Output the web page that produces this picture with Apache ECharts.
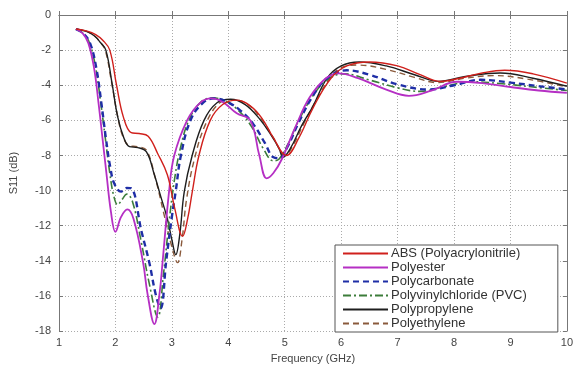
<!DOCTYPE html>
<html>
<head>
<meta charset="utf-8">
<script src="https://cdn.jsdelivr.net/npm/echarts@6/dist/echarts.min.js"></script>
<style>
html,body{margin:0;padding:0;background:#fff;}
#chart{width:576px;height:369px;}
</style>
</head>
<body>
<div id="chart"></div>
<script>
// ---- data (frequency in GHz, S11 in dB) ----
var absFreq = [1.3,1.5,1.65,1.78,1.9,2.02,2.14,2.28,2.42,2.58,2.75,2.92,3.05,3.19,3.28,3.36,3.48,3.68,3.9,4.15,4.4,4.6,4.8,5.03,5.25,5.5,5.82,6.1,6.5,7.0,7.4,7.75,8.1,8.5,8.9,9.4,10];
var absS11 = [-0.8,-0.92,-1.12,-1.45,-2.0,-4.0,-5.8,-6.7,-6.75,-6.9,-7.9,-9.1,-11.0,-12.6,-11.6,-10.1,-8.0,-6.0,-5.1,-4.85,-5.2,-5.9,-7.0,-8.0,-7.0,-5.3,-3.6,-2.9,-2.68,-2.9,-3.4,-3.78,-3.6,-3.3,-3.15,-3.35,-3.88];

var polyesterFreq = [1.3,1.42,1.52,1.62,1.7,1.77,1.84,1.92,2.0,2.1,2.21,2.32,2.49,2.57,2.69,2.78,2.84,2.95,3.04,3.27,3.5,3.7,3.9,4.15,4.39,4.55,4.68,4.8,4.95,5.2,5.44,5.73,5.96,6.3,6.8,7.2,7.6,8.05,8.5,9.0,9.5,10];
var polyesterS11 = [-0.8,-1.05,-1.6,-3.0,-5.0,-7.0,-9.0,-11.2,-12.35,-11.5,-11.07,-11.6,-14.1,-15.9,-17.6,-15.9,-13.9,-10.06,-8.03,-6.0,-5.0,-4.75,-4.95,-5.6,-6.0,-8.0,-9.3,-9.0,-8.2,-6.3,-4.7,-3.6,-3.32,-3.6,-4.25,-4.6,-4.3,-3.8,-3.88,-4.1,-4.3,-4.43];

var pcFreq = [1.3,1.43,1.55,1.66,1.75,1.83,1.91,1.98,2.1,2.2,2.28,2.46,2.6,2.72,2.8,2.9,3.0,3.07,3.16,3.33,3.55,3.75,3.95,4.2,4.44,4.65,4.8,4.91,5.05,5.25,5.5,5.75,6.1,6.5,7.0,7.54,8.0,8.47,9.0,9.5,10];
var pcS11 = [-0.8,-1.05,-1.6,-3.0,-5.0,-7.0,-8.7,-9.6,-10.06,-9.85,-9.87,-12.3,-14.1,-16.0,-16.7,-14.0,-11.5,-10.0,-8.0,-6.0,-5.0,-4.75,-4.9,-5.4,-6.2,-7.3,-8.1,-8.15,-7.5,-6.1,-4.6,-3.6,-3.15,-3.4,-3.95,-4.24,-4.0,-3.69,-3.85,-4.05,-4.24];

var pvcFreq = [1.3,1.43,1.54,1.65,1.74,1.82,1.9,1.97,2.04,2.12,2.2,2.3,2.45,2.6,2.75,2.85,2.95,3.05,3.15,3.3,3.5,3.72,3.95,4.2,4.42,4.62,4.8,4.9,5.05,5.25,5.5,5.75,6.05,6.5,7.0,7.4,7.8,8.3,8.8,9.4,10];
var pvcS11 = [-0.8,-1.05,-1.6,-3.0,-5.0,-7.0,-9.0,-10.3,-10.8,-10.5,-10.2,-10.6,-12.8,-15.3,-17.2,-14.8,-11.8,-9.3,-7.6,-6.0,-5.0,-4.72,-4.9,-5.5,-6.4,-7.6,-8.3,-8.2,-7.4,-6.0,-4.6,-3.7,-3.35,-3.7,-4.15,-4.35,-4.1,-3.8,-3.9,-4.1,-4.3];

var ppFreq = [1.3,1.5,1.63,1.73,1.83,1.94,2.04,2.15,2.25,2.4,2.55,2.69,2.8,2.92,3.0,3.07,3.14,3.22,3.36,3.57,3.8,4.04,4.3,4.55,4.75,4.9,4.97,5.1,5.3,5.5,5.75,6.0,6.32,6.8,7.3,7.72,8.2,8.82,9.4,10];
var ppS11 = [-0.8,-0.95,-1.2,-1.55,-2.0,-3.9,-5.8,-7.0,-7.5,-7.55,-7.8,-9.1,-10.3,-11.6,-12.8,-13.65,-12.5,-10.06,-8.0,-6.0,-5.0,-4.8,-5.1,-5.9,-6.8,-7.6,-8.1,-7.6,-6.3,-5.2,-3.6,-2.9,-2.68,-2.9,-3.4,-3.78,-3.5,-3.3,-3.6,-4.06];

var peFreq = [1.3,1.5,1.63,1.73,1.82,1.93,2.03,2.13,2.25,2.4,2.55,2.7,2.85,3.0,3.1,3.18,3.26,3.4,3.6,3.85,4.08,4.35,4.6,4.8,4.95,5.0,5.15,5.35,5.55,5.8,6.0,6.3,6.8,7.3,7.7,8.2,8.7,9.3,10];
var peS11 = [-0.8,-0.95,-1.2,-1.55,-2.0,-3.8,-5.6,-6.9,-7.45,-7.5,-7.7,-9.2,-11.2,-13.2,-14.1,-12.8,-10.5,-8.2,-6.2,-5.0,-4.82,-5.1,-6.0,-7.0,-7.9,-8.0,-7.4,-6.1,-4.9,-3.6,-3.0,-2.85,-3.1,-3.55,-3.85,-3.6,-3.45,-3.65,-4.1];

var seriesNames = ['ABS (Polyacrylonitrile)','Polyester','Polycarbonate','Polyvinylchloride (PVC)','Polypropylene','Polyethylene'];

function zip(f, v){ return f.map(function(x,i){ return [x, v[i]]; }); }

var styles = [
  {color:'#d0201c', width:1.4, type:'solid'},
  {color:'#b52fc4', width:1.8, type:'solid'},
  {color:'#1f2ea6', width:2.4, type:[6,4]},
  {color:'#3c7d3a', width:1.6, type:[8,3,2,3]},
  {color:'#1e1e1e', width:1.4, type:'solid'},
  {color:'#8a5a3c', width:1.4, type:[6,4]}
];
var datasets = [zip(absFreq,absS11), zip(polyesterFreq,polyesterS11), zip(pcFreq,pcS11), zip(pvcFreq,pvcS11), zip(ppFreq,ppS11), zip(peFreq,peS11)];

var series = datasets.map(function(d,i){
  return {
    name: seriesNames[i], type:'line', data:d, smooth:0.4, symbol:'none',
    xAxisIndex:0, yAxisIndex:0,
    lineStyle:{color:styles[i].color, width:styles[i].width, type:styles[i].type},
    itemStyle:{color:styles[i].color},
    z: 10 - i
  };
});

var txt = {color:'#444', fontFamily:'Liberation Sans, Arial, sans-serif', fontSize:11};
var gridLine = {show:true, lineStyle:{color:'#aaa', type:[1,2], width:1}};

var chart = echarts.init(document.getElementById('chart'), null, {renderer:'canvas'});
chart.setOption({
  backgroundColor:'#fff',
  animation:false,
  grid:{left:57, right:6, top:15, bottom:29, show:false},
  legend:{
    show:true,
    orient:'vertical', left:335, top:245,
    data: seriesNames,
    itemWidth:45, itemHeight:12, itemGap:1,
    padding:[2,31,2,7],
    backgroundColor:'#fff', borderColor:'#555', borderWidth:1,
    itemStyle:{opacity:0},
    textStyle:{color:'#333', fontFamily:'Liberation Sans, Arial, sans-serif', fontSize:13, lineHeight:12, padding:[0,0,0,-2]}
  },
  xAxis:[{
    type:'value', min:1, max:10, interval:1,
    name:'Frequency (GHz)', nameLocation:'middle', nameGap:20,
    nameTextStyle:txt,
    axisLine:{show:true, lineStyle:{color:'#777'}},
    axisTick:{show:true, inside:true, length:4, lineStyle:{color:'#777'}},
    axisLabel:Object.assign({margin:6}, txt),
    splitLine:gridLine
  },{
    type:'value', min:1, max:10, interval:1, position:'top',
    axisLine:{show:true, lineStyle:{color:'#777'}},
    axisTick:{show:true, inside:true, length:4, lineStyle:{color:'#777'}},
    axisLabel:{show:false}, splitLine:{show:false}
  }],
  yAxis:[{
    type:'value', min:-18, max:0, interval:2,
    name:'S11 (dB)', nameLocation:'middle', nameGap:40,
    nameTextStyle:txt,
    axisLine:{show:true, lineStyle:{color:'#777'}},
    axisTick:{show:true, inside:true, length:4, lineStyle:{color:'#777'}},
    axisLabel:Object.assign({margin:8}, txt),
    splitLine:gridLine
  },{
    type:'value', min:-18, max:0, interval:2, position:'right',
    axisLine:{show:true, lineStyle:{color:'#777'}},
    axisTick:{show:true, inside:true, length:4, lineStyle:{color:'#777'}},
    axisLabel:{show:false}, splitLine:{show:false}
  }],
  series: series
});
</script>
</body>
</html>
